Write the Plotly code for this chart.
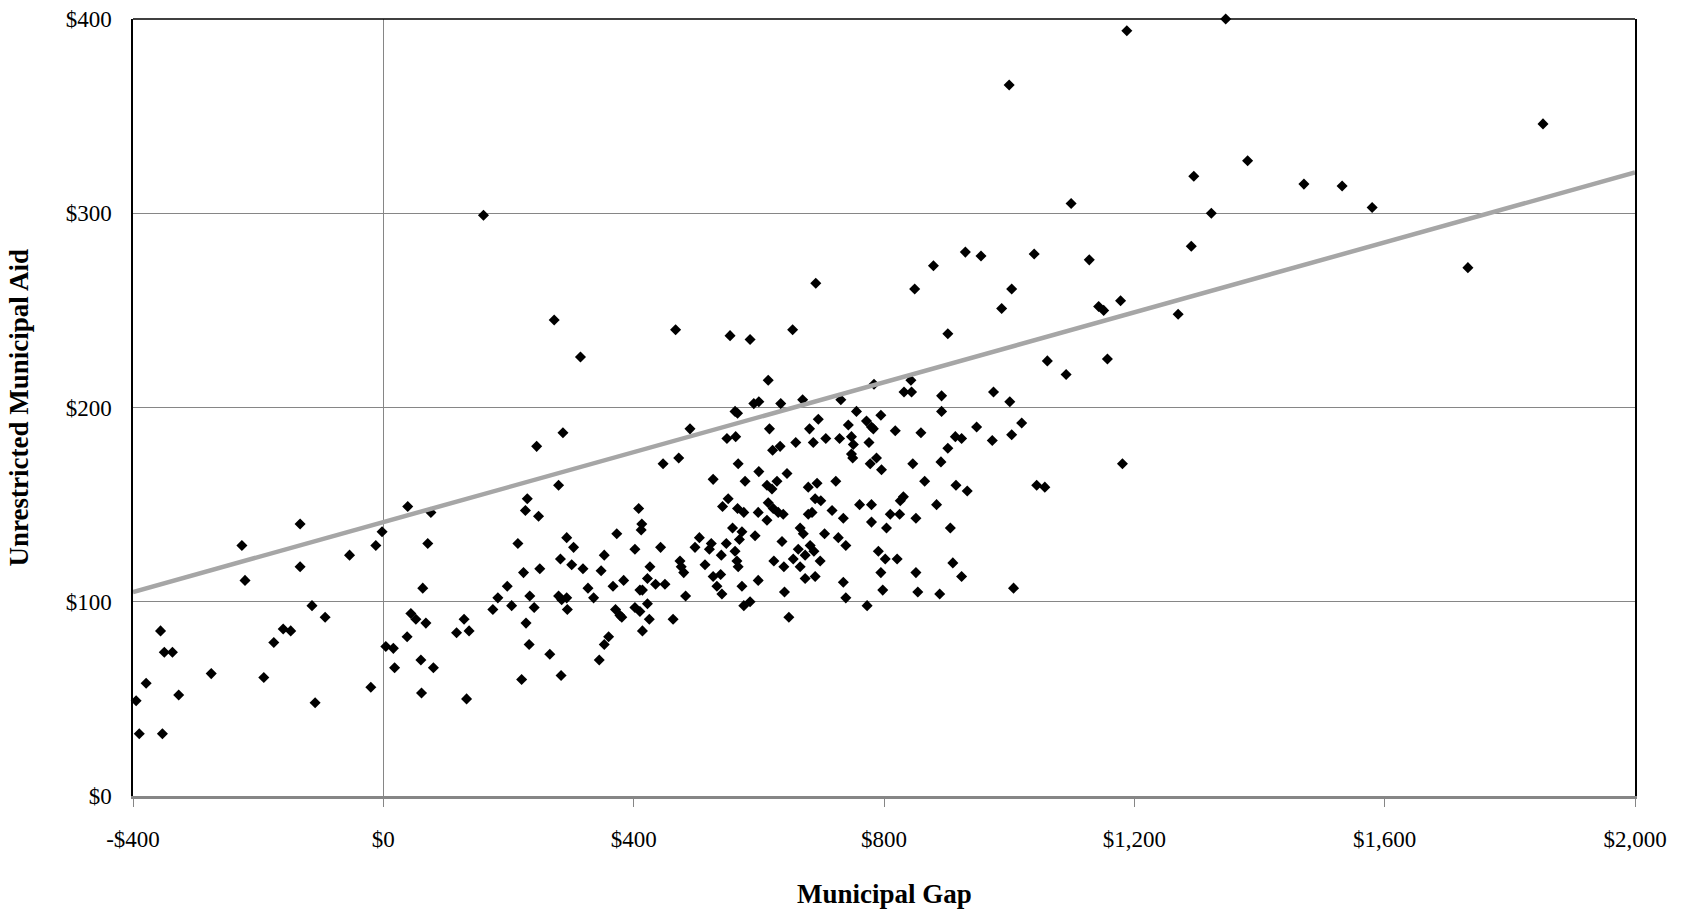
import plotly.graph_objects as go

# Municipal Gap (x, dollars per capita) and Unrestricted Municipal Aid (y, dollars per capita)
gap = [
    -226, -133, -221, -133, -54, -12, -2, 39, 76, 71, 63, -356, -350, -337, -379, -395, -390, -353,
    -327, -275, -191, -175, -160, -148, -114, -93, -109, -20, 4, 16, 18, 38, 44, 52, 68, 60, 80, 61, 117,
    280, 230, 227, 248, 215, 293, 304, 283, 301, 319, 373, 353, 348, 224, 250, 198, 183, 175, 205, 234,
    241, 280, 285, 293, 294, 327, 336, 367, 384, 129, 137, 228, 233, 266, 221, 284, 133, 408, 413, 412,
    402, 443, 426, 422, 410, 414, 435, 450, 422, 371, 378, 381, 402, 410, 425, 414, 463, 483, 360, 353,
    345, 474, 476, 480, 505, 498, 514, 524, 521, 540, 548, 527, 539, 533, 541, 558, 573, 569, 562, 565,
    567, 573, 551, 542, 566, 576, 576, 527, 578,
    613, 621, 629, 679, 693, 723, 865, 915, 933, 1044, 599, 613, 615, 623, 631, 639, 679, 685, 690, 699,
    717, 735, 761, 780, 780, 810, 825, 826, 831, 851, 804, 884, 906, 594, 637, 666, 671, 705, 727, 739,
    663, 674, 682, 688, 655, 666, 698, 624, 640, 674, 690, 791, 802, 821, 795, 851, 910, 924, 1007, 735,
    739, 798, 854, 889, 599, 641, 586, 773, 648,
    315, 615, 592, 600, 562, 566, 490, 287, 245, 549, 563, 617, 622, 447, 472, 567, 600,
    160, 273, 467, 554, 586, 654, 691, 849, 879, 930, 955, 1040, 1099, 902, 988, 1004,
    1061, 1091, 635, 670, 731, 784, 843, 832, 844, 892, 892, 975, 1001, 1020, 1004, 973, 948, 859, 914,
    924, 902, 891, 846, 818, 795, 756, 772, 780, 783, 743, 695, 681, 748, 751, 748, 750, 776, 729, 707,
    687, 659, 634, 788, 778, 796, 645, 1057,
    1188, 1346, 1853, 1733, 1128, 1295, 1381, 1323, 1291, 1471, 1532, 1580, 1143, 1151, 1178, 1270,
    1157, 1181, 1000,
]
aid = [
    129, 140, 111, 118, 124, 129, 136, 149, 146, 130, 107, 85, 74, 74, 58, 49, 32, 32,
    52, 63, 61, 79, 86, 85, 98, 92, 48, 56, 77, 76, 66, 82, 94, 91, 89, 70, 66, 53, 84,
    160, 153, 147, 144, 130, 133, 128, 122, 119, 117, 135, 124, 116, 115, 117, 108, 102, 96, 98, 103,
    97, 103, 101, 102, 96, 107, 102, 108, 111, 91, 85, 89, 78, 73, 60, 62, 50, 148, 140, 137,
    127, 128, 118, 112, 106, 106, 109, 109, 99, 96, 93, 92, 97, 95, 91, 85, 91, 103, 82, 78,
    70, 121, 118, 115, 133, 128, 119, 130, 127, 124, 130, 113, 114, 108, 104, 138, 136, 132, 126, 121,
    118, 108, 153, 149, 148, 146, 98, 163, 162,
    160, 158, 162, 159, 161, 162, 162, 160, 157, 160, 146, 142, 151, 148, 146, 145, 145, 146, 153, 152,
    147, 143, 150, 150, 141, 145, 145, 152, 154, 143, 138, 150, 138, 134, 131, 138, 135, 135, 133, 129,
    127, 124, 129, 126, 122, 118, 121, 121, 118, 112, 113, 126, 122, 122, 115, 115, 120, 113, 107, 110,
    102, 106, 105, 104, 111, 105, 100, 98, 92,
    226, 214, 202, 203, 198, 197, 189, 187, 180, 184, 185, 189, 178, 171, 174, 171, 167,
    299, 245, 240, 237, 235, 240, 264, 261, 273, 280, 278, 279, 305, 238, 251, 261,
    224, 217, 202, 204, 204, 212, 214, 208, 208, 206, 198, 208, 203, 192, 186, 183, 190, 187, 185,
    184, 179, 172, 171, 188, 196, 198, 193, 190, 189, 191, 194, 189, 185, 181, 176, 174, 182, 184, 184,
    182, 182, 180, 174, 171, 168, 166, 159,
    394, 400, 346, 272, 276, 319, 327, 300, 283, 315, 314, 303, 252, 250, 255, 248,
    225, 171, 366,
]

# Linear trendline as drawn (end points)
trend_x = [-400, 2000]
trend_y = [105, 321]

x_ticks = [-400, 0, 400, 800, 1200, 1600, 2000]
x_ticktext = ["-$400", "$0", "$400", "$800", "$1,200", "$1,600", "$2,000"]
y_ticks = [0, 100, 200, 300, 400]
y_ticktext = ["$0", "$100", "$200", "$300", "$400"]

FONT = "Liberation Serif"
GRID = "#868686"

fig = go.Figure()
fig.add_trace(go.Scatter(
    x=gap, y=aid, mode="markers",
    marker=dict(symbol="diamond", size=8.5, color="black", line=dict(width=0)),
    cliponaxis=False, showlegend=False, hoverinfo="x+y",
))
fig.add_trace(go.Scatter(
    x=trend_x, y=trend_y, mode="lines",
    line=dict(color="#A6A6A6", width=4.5),
    showlegend=False, hoverinfo="skip",
))

fig.update_layout(
    width=1681, height=909,
    margin=dict(l=133, r=46, t=19, b=113, pad=0, autoexpand=False),
    paper_bgcolor="white", plot_bgcolor="white",
    font=dict(family=FONT, color="black", size=23),
    xaxis=dict(
        range=[-400, 2000], tickvals=x_ticks, ticktext=x_ticktext, automargin=False,
        showgrid=False, zeroline=True, zerolinecolor=GRID, zerolinewidth=1.3,
        showline=True, linecolor=GRID, linewidth=2.5,
        ticks="outside", ticklen=8, tickcolor=GRID, tickwidth=1.3,
        ticklabelstandoff=13,
        tickfont=dict(family=FONT, size=23, color="black"),
    ),
    yaxis=dict(
        range=[0, 400], tickvals=y_ticks, ticktext=y_ticktext, automargin=False,
        showgrid=True, gridcolor=GRID, gridwidth=1.3, zeroline=False,
        showline=True, linecolor="black", linewidth=1.5, mirror=True,
        ticks="", ticklabelstandoff=15,
        tickfont=dict(family=FONT, size=23, color="black"),
    ),
    shapes=[dict(type="line", xref="paper", yref="paper", x0=0, x1=1, y0=1, y1=1,
                 line=dict(color="black", width=1.5), layer="above")],
    annotations=[
        dict(text="<b>Municipal Gap</b>", xref="paper", yref="paper", x=0.5, y=-0.1256,
             xanchor="center", yanchor="middle", showarrow=False,
             font=dict(family=FONT, size=27, color="black")),
        dict(text="<b>Unrestricted Municipal Aid</b>", xref="paper", yref="paper",
             x=-0.0759, y=0.5, xanchor="center", yanchor="middle", textangle=-90,
             showarrow=False, font=dict(family=FONT, size=27, color="black")),
    ],
)

fig.write_html("out.html")
